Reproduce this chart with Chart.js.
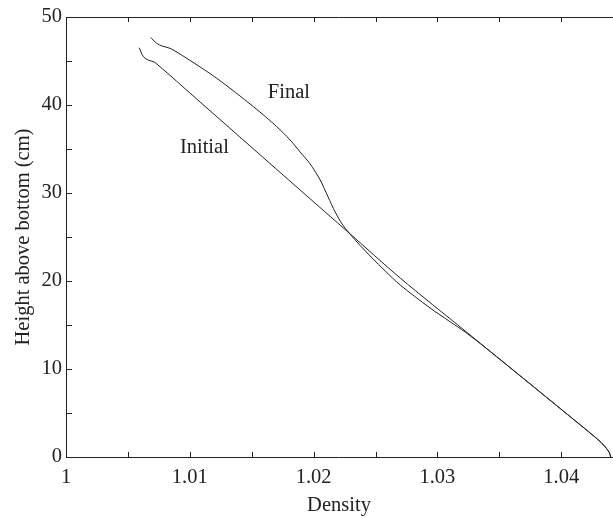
<!DOCTYPE html>
<html>
<head>
<meta charset="utf-8">
<script src="https://cdn.jsdelivr.net/npm/chart.js@4"></script>
<style>
  html, body { margin: 0; padding: 0; background: #fff; }
  #wrap { width: 613px; height: 518px; }
</style>
</head>
<body>
<div id="wrap"><canvas id="densityChart" width="613" height="518"></canvas></div>
<script>
// values
const initialDensity = [1.00592, 1.00606, 1.00625, 1.00655, 1.00687, 1.00719, 1.01083, 1.01487, 1.01891, 1.02287, 1.02699, 1.03224, 1.03749, 1.04016, 1.04291, 1.04356, 1.04388, 1.0440];
const initialHeight  = [46.51, 46.02, 45.49, 45.17, 45.0, 44.83, 40.34, 35.34, 30.34, 25.45, 20.34, 14.32, 8.30, 5.23, 2.05, 1.14, 0.51, 0];

const finalDensity = [1.00684, 1.00703, 1.00733, 1.00776, 1.0084, 1.00975, 1.01218, 1.01514, 1.01703, 1.0181, 1.01891, 1.01972, 1.02053, 1.02117, 1.02174, 1.0223, 1.02287, 1.02376, 1.02473, 1.02578, 1.02699, 1.02941, 1.03103, 1.03224, 1.03386, 1.03749, 1.04016, 1.04291, 1.04356, 1.04388, 1.0440];
const finalHeight  = [47.69, 47.39, 47.01, 46.70, 46.44, 45.31, 43.03, 39.81, 37.53, 36.02, 34.66, 33.30, 31.48, 29.55, 27.84, 26.48, 25.45, 24.03, 22.61, 21.14, 19.55, 16.93, 15.36, 14.2, 12.44, 8.30, 5.23, 2.05, 1.14, 0.51, 0];

const xTicks = [1, 1.01, 1.02, 1.03, 1.04];
const yTicks = [0, 10, 20, 30, 40, 50];
const xMarks = [1.005, 1.01, 1.015, 1.02, 1.025, 1.03, 1.035, 1.04];
const yMarks = [5, 10, 15, 20, 25, 30, 35, 40, 45];

const curveNames = ['Final', 'Initial'];
const nameDensity = [1.0163, 1.0092];
const nameHeight = [41.4, 35.2];

const ink = '#222';
const serif = { family: '"Liberation Serif", "Times New Roman", serif', size: 20.5 };

function toPoints(xs, ys) {
  return xs.map((x, i) => ({ x: x, y: ys[i] }));
}

// inward tick marks, top frame line and curve names
const frameTicks = {
  id: 'frameTicks',
  afterDraw(chart) {
    const ctx = chart.ctx;
    const a = chart.chartArea;
    const xs = chart.scales.x, ys = chart.scales.y;
    ctx.save();
    ctx.strokeStyle = ink;
    ctx.lineWidth = 1;
    ctx.beginPath();
    ctx.moveTo(a.left, a.top + 0.5);
    ctx.lineTo(a.right + 1, a.top + 0.5);
    xMarks.forEach(v => {
      const px = Math.round(xs.getPixelForValue(v)) + 0.5;
      ctx.moveTo(px, a.bottom);
      ctx.lineTo(px, a.bottom - 5);
      ctx.moveTo(px, a.top);
      ctx.lineTo(px, a.top + 5);
    });
    yMarks.forEach(v => {
      const py = Math.round(ys.getPixelForValue(v)) + 0.5;
      ctx.moveTo(a.left, py);
      ctx.lineTo(a.left + 6, py);
    });
    ctx.stroke();

    ctx.fillStyle = ink;
    ctx.font = serif.size + 'px ' + serif.family;
    ctx.textAlign = 'left';
    ctx.textBaseline = 'middle';
    curveNames.forEach((t, i) => {
      ctx.fillText(t, xs.getPixelForValue(nameDensity[i]), ys.getPixelForValue(nameHeight[i]));
    });
    ctx.restore();
  }
};

new Chart(document.getElementById('densityChart'), {
  type: 'scatter',
  data: {
    datasets: [{
      label: 'Initial',
      data: toPoints(initialDensity, initialHeight),
      showLine: true,
      borderColor: ink,
      borderWidth: 1,
      pointRadius: 0,
      tension: 0.3
    }, {
      label: 'Final',
      data: toPoints(finalDensity, finalHeight),
      showLine: true,
      borderColor: ink,
      borderWidth: 1,
      pointRadius: 0,
      tension: 0.3
    }]
  },
  options: {
    responsive: false,
    animation: false,
    devicePixelRatio: 1,
    layout: { padding: { top: 17, right: 1, left: 0, bottom: 0 } },
    plugins: { legend: { display: false }, tooltip: { enabled: false } },
    scales: {
      x: {
        type: 'linear',
        min: 1,
        max: 1.0441,
        grid: { display: false, drawTicks: false },
        border: { display: true, color: ink, width: 1 },
        afterBuildTicks: s => { s.ticks = xTicks.map(v => ({ value: v })); },
        afterFit: s => { s.height = 61; },
        ticks: {
          color: ink,
          font: serif,
          padding: 8,
          maxRotation: 0,
          autoSkip: false,
          callback: v => String(+v.toFixed(2))
        },
        title: { display: true, text: 'Density', color: ink, font: serif, padding: { top: 0, bottom: 0 } }
      },
      y: {
        type: 'linear',
        min: 0,
        max: 50,
        grid: { display: false, drawTicks: false },
        border: { display: true, color: ink, width: 1 },
        afterBuildTicks: s => { s.ticks = yTicks.map(v => ({ value: v })); },
        afterFit: s => { s.width = 66; },
        ticks: { color: ink, font: serif, padding: 4, autoSkip: false },
        title: { display: true, text: 'Height above bottom (cm)', color: ink, font: serif, padding: { top: 11, bottom: 0 } }
      }
    }
  },
  plugins: [frameTicks]
});
</script>
</body>
</html>
